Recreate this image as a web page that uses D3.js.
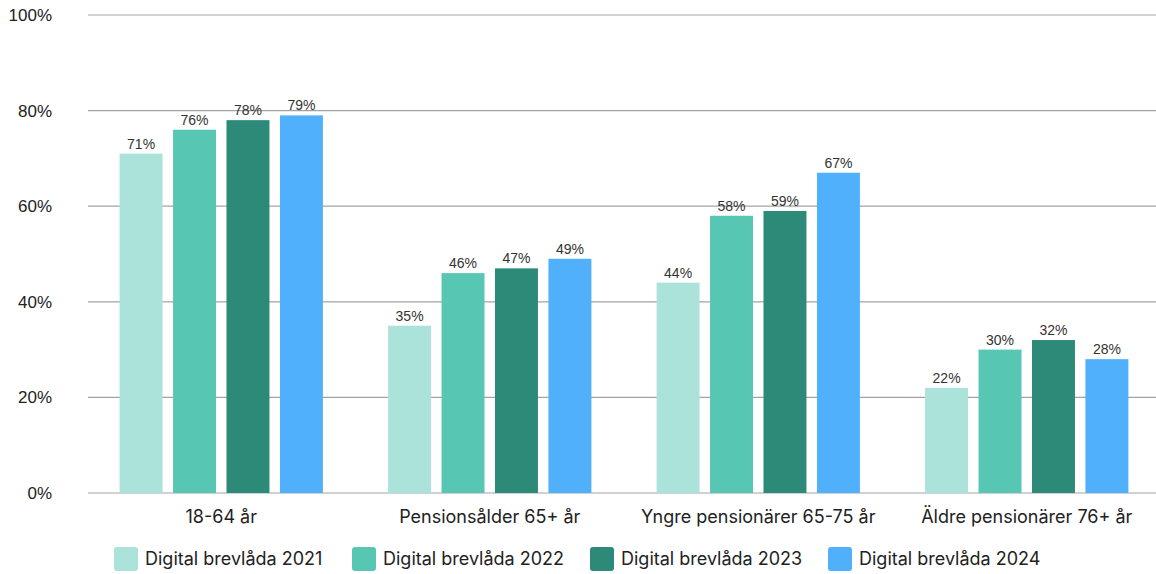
<!DOCTYPE html>
<html>
<head>
<meta charset="utf-8">
<script src="https://cdn.jsdelivr.net/npm/d3@7"></script>
<style>
  body { margin: 0; background: #fff; }
</style>
</head>
<body>
<div id="chart"></div>
<script>
// Data
const categories = ['18-64 år', 'Pensionsålder 65+ år', 'Yngre pensionärer 65-75 år', 'Äldre pensionärer 76+ år'];
const seriesNames = ['Digital brevlåda 2021', 'Digital brevlåda 2022', 'Digital brevlåda 2023', 'Digital brevlåda 2024'];
const values2021 = [71, 35, 44, 22];
const values2022 = [76, 46, 58, 30];
const values2023 = [78, 47, 59, 32];
const values2024 = [79, 49, 67, 28];
const yTicks = [0, 20, 40, 60, 80, 100];
const colors = ['#abe3da', '#57c7b4', '#2d8a79', '#50b0fc'];

const seriesValues = [values2021, values2022, values2023, values2024];

function draw() {
  const dimensions = {
    width: 1156,
    height: 574,
    margin: { top: 15, bottom: 81, left: 87, right: -5 }
  };
  dimensions.ctrWidth = dimensions.width - dimensions.margin.left - dimensions.margin.right;
  dimensions.ctrHeight = dimensions.height - dimensions.margin.top - dimensions.margin.bottom;

  const svg = d3.select('#chart')
    .append('svg')
    .attr('width', dimensions.width)
    .attr('height', dimensions.height);

  const ctr = svg.append('g')
    .attr('transform', `translate(${dimensions.margin.left},${dimensions.margin.top})`);

  // Scales
  const xScale = d3.scaleBand()
    .domain(categories)
    .range([0, dimensions.ctrWidth]);

  const innerScale = d3.scaleBand()
    .domain(seriesNames)
    .range([0, xScale.bandwidth()])
    .paddingInner(0.196)
    .paddingOuter(0.61);

  const yScale = d3.scaleLinear()
    .domain([0, 100])
    .range([dimensions.ctrHeight, 0]);

  // Gridlines
  ctr.append('g')
    .selectAll('line')
    .data(yTicks)
    .join('line')
    .attr('x1', 1)
    .attr('x2', 1156 - dimensions.margin.left)
    .attr('y1', d => yScale(d))
    .attr('y2', d => yScale(d))
    .attr('stroke', '#a3a3a3')
    .attr('stroke-width', 1.2);

  // Y labels
  ctr.append('g')
    .selectAll('text')
    .data(yTicks)
    .join('text')
    .attr('x', -35)
    .attr('y', d => yScale(d))
    .attr('dy', '0.35em')
    .attr('text-anchor', 'end')
    .attr('font-family', 'Liberation Sans, Arial, sans-serif')
    .attr('font-size', 17)
    .attr('fill', '#222')
    .text(d => d + '%');

  // Bars
  const rows = [];
  categories.forEach((c, i) => {
    seriesNames.forEach((s, j) => {
      rows.push({ category: c, series: s, value: seriesValues[j][i], color: colors[j] });
    });
  });

  ctr.append('g')
    .selectAll('rect')
    .data(rows)
    .join('rect')
    .attr('x', d => xScale(d.category) + innerScale(d.series))
    .attr('y', d => yScale(d.value))
    .attr('width', innerScale.bandwidth())
    .attr('height', d => yScale(0) - yScale(d.value))
    .attr('fill', d => d.color);

  // Value labels
  ctr.append('g')
    .selectAll('text')
    .data(rows)
    .join('text')
    .attr('x', d => xScale(d.category) + innerScale(d.series) + innerScale.bandwidth() / 2)
    .attr('y', d => yScale(d.value) - 5)
    .attr('text-anchor', 'middle')
    .attr('font-family', 'Liberation Sans, Arial, sans-serif')
    .attr('font-size', 14)
    .attr('fill', '#333')
    .text(d => d.value + '%');

  // Category labels
  ctr.append('g')
    .selectAll('text')
    .data(categories)
    .join('text')
    .attr('x', d => xScale(d) + xScale.bandwidth() / 2)
    .attr('y', dimensions.ctrHeight + 30)
    .attr('text-anchor', 'middle')
    .attr('font-family', 'Inter, sans-serif')
    .attr('font-size', 18)
    .attr('fill', '#222')
    .text(d => d);

  // Legend
  const legend = svg.append('g')
    .attr('transform', 'translate(114,547)');

  const item = legend.selectAll('g')
    .data(seriesNames)
    .join('g')
    .attr('transform', (d, i) => `translate(${i * 238},0)`);

  item.append('rect')
    .attr('width', 24)
    .attr('height', 24)
    .attr('rx', 3)
    .attr('fill', (d, i) => colors[i]);

  item.append('text')
    .attr('x', 31)
    .attr('y', 12)
    .attr('dy', '0.35em')
    .attr('font-family', 'Inter, sans-serif')
    .attr('font-size', 18)
    .attr('fill', '#222')
    .text(d => d);
}

draw();
</script>
</body>
</html>
